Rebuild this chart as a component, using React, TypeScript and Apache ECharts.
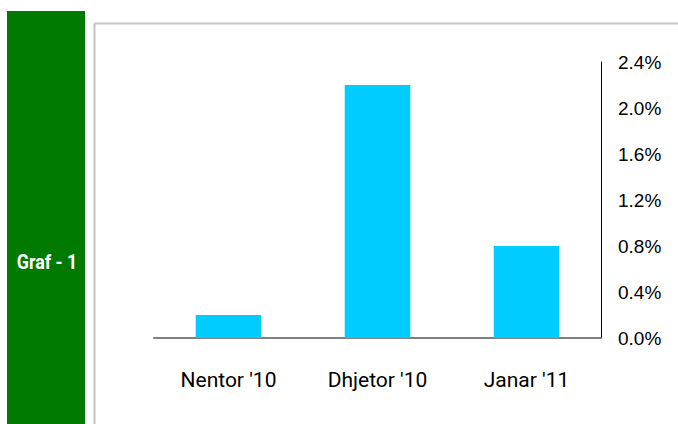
import React, { useEffect, useRef } from "react";
import * as echarts from "echarts";

const categories = ["Nentor '10", "Dhjetor '10", "Janar '11"];
const values = [0.2, 2.2, 0.8];
const panelTitle = "Graf - 1";

export default function App() {
  const ref = useRef<HTMLDivElement>(null);
  useEffect(() => {
    const chart = echarts.init(ref.current!, undefined, { renderer: "svg" });
    chart.setOption({
      animation: false,
      backgroundColor: "#ffffff",
      grid: { left: 154, right: 77, top: 62, bottom: 86 },
      graphic: [
        { type: "rect", shape: { x: 7, y: 11, width: 78, height: 420 }, style: { fill: "#007A00" } },
        {
          type: "text",
          x: 47,
          y: 262,
          scaleX: 0.85,
          style: {
            text: panelTitle,
            fill: "#ffffff",
            fontFamily: "Roboto",
            fontWeight: "bold",
            fontSize: 21,
            align: "center",
            verticalAlign: "middle",
          },
        },
        { type: "line", shape: { x1: 94.5, y1: 23.5, x2: 94.5, y2: 430 }, style: { stroke: "#c4c4c4", lineWidth: 2 } },
        { type: "line", shape: { x1: 94, y1: 23.5, x2: 680, y2: 23.5 }, style: { stroke: "#c4c4c4", lineWidth: 2 } },
      ],
      xAxis: {
        type: "category",
        data: categories,
        axisLine: { show: true, lineStyle: { color: "#808080", width: 2 } },
        axisTick: { show: false },
        axisLabel: {
          color: "#000000",
          fontSize: 21,
          margin: 31,
          fontFamily: "Roboto",
        },
      },
      yAxis: {
        type: "value",
        position: "right",
        min: 0,
        max: 2.4,
        interval: 0.4,
        axisLine: { show: true, lineStyle: { color: "#000000", width: 1 } },
        axisTick: { show: false },
        splitLine: { show: false },
        axisLabel: {
          color: "#000000",
          fontSize: 19,
          margin: 17,
          fontFamily: "Liberation Sans",
          formatter: (v: number) => v.toFixed(1) + "%",
        },
      },
      series: [
        {
          type: "bar",
          data: values,
          barWidth: "44%",
          itemStyle: { color: "#00CCFF" },
        },
      ],
    });
    return () => chart.dispose();
  }, []);
  return (
    <div
      ref={ref}
      style={{ position: "absolute", left: 0, top: 0, width: 678, height: 424 }}
    />
  );
}
